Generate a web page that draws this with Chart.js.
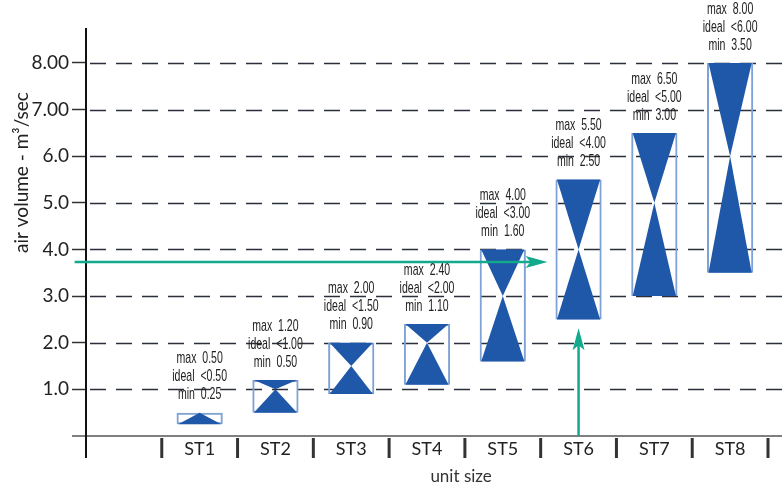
<!DOCTYPE html>
<html>
<head>
<meta charset="utf-8">
<script src="https://cdn.jsdelivr.net/npm/chart.js@4/dist/chart.umd.min.js"></script>
<style>
  html, body { margin: 0; padding: 0; background: #fff; }
  #wrap { width: 782px; height: 486px; }
</style>
</head>
<body>
<div id="wrap"><canvas id="airChart"></canvas></div>
<script>
/* valeurs */
const categories = ["", "ST1", "ST2", "ST3", "ST4", "ST5", "ST6", "ST7", "ST8"];
const maxValues   = [null, 0.50, 1.20, 2.00, 2.40, 4.00, 5.50, 6.50, 8.00];
const idealValues = [null, 0.50, 1.00, 1.50, 2.00, 3.00, 4.00, 5.00, 6.00];
const minValues   = [null, 0.25, 0.50, 0.90, 1.10, 1.60, 2.50, 3.00, 3.50];
const yTicks = [1, 2, 3, 4, 5, 6, 7, 8];
const yTickLabels = ["1.0", "2.0", "3.0", "4.0", "5.0", "6.0", "7.00", "8.00"];

// flèches vertes (en unités d'échelle : index de catégorie / valeur)
const arrowH = { y: 3.73, fromX: -0.65, toX: 5.59 };
const arrowV = { x: 6, fromY: 0, toY: 2.31 };

const labelFont = "'Lato', 'Noto Sans', sans-serif";
const DARK_BLUE = "#1f57a9";
const LIGHT_BLUE = "#7ea2d6";
const TEAL = "#12a98c";

function fmt(v) { return v.toFixed(2); }

// texte condensé (pas de police étroite installée)
function narrowText(ctx, txt, x, y) {
  ctx.save();
  ctx.translate(x, y);
  ctx.scale(0.62, 1);
  ctx.fillText(txt, 0, 0);
  ctx.restore();
}

/* plugin : grille, séparateurs, triangles, textes, flèches */
const decorPlugin = {
  id: "decor",
  beforeDatasetsDraw(chart) {
    const { ctx, chartArea, scales } = chart;
    const y = scales.y, x = scales.x;
    const W = chart.width;
    ctx.save();
    // lignes pointillées horizontales
    ctx.strokeStyle = "#2b2f3a";
    ctx.lineWidth = 1.3;
    ctx.setLineDash([16, 10]);
    yTicks.forEach(v => {
      const py = Math.round(y.getPixelForValue(v)) + 0.5;
      ctx.beginPath();
      ctx.moveTo(chartArea.left + 4, py);
      ctx.lineTo(W, py);
      ctx.stroke();
    });
    ctx.setLineDash([]);
    // axe x
    ctx.strokeStyle = "#555";
    ctx.lineWidth = 1.5;
    ctx.beginPath();
    ctx.moveTo(chartArea.left - 14, chartArea.bottom);
    ctx.lineTo(W, chartArea.bottom);
    ctx.stroke();
    // axe y (descend sous l'axe x)
    ctx.strokeStyle = "#111";
    ctx.lineWidth = 2;
    ctx.beginPath();
    ctx.moveTo(chartArea.left, chartArea.top);
    ctx.lineTo(chartArea.left, chartArea.bottom + 22);
    ctx.stroke();
    // séparateurs de catégories
    const half = (x.getPixelForValue(1) - x.getPixelForValue(0)) / 2;
    ctx.strokeStyle = "#333";
    ctx.lineWidth = 3;
    for (let i = 1; i <= categories.length; i++) {
      const px = x.getPixelForValue(i) - half;
      ctx.beginPath();
      ctx.moveTo(px, chartArea.bottom + 2);
      ctx.lineTo(px, chartArea.bottom + 22);
      ctx.stroke();
    }
    // titre de l'axe y
    ctx.fillStyle = "#222";
    ctx.font = "19px " + labelFont;
    ctx.textAlign = "center";
    ctx.textBaseline = "middle";
    ctx.translate(22, y.getPixelForValue(5.65));
    ctx.rotate(-Math.PI / 2);
    ctx.fillText("air volume - m³/sec", 0, 0);
    ctx.restore();
  },
  afterDatasetsDraw(chart) {
    const { ctx, scales } = chart;
    const y = scales.y, x = scales.x;
    const meta = chart.getDatasetMeta(0);
    ctx.save();
    meta.data.forEach((bar, i) => {
      if (maxValues[i] == null) return;
      const half = bar.width / 2 - 1.5;
      const left = bar.x - half, right = bar.x + half;
      const yMax = y.getPixelForValue(maxValues[i]);
      const yIdeal = y.getPixelForValue(idealValues[i]);
      const yMin = y.getPixelForValue(minValues[i]);
      ctx.fillStyle = DARK_BLUE;
      // triangle haut
      ctx.beginPath();
      ctx.moveTo(left, yMax);
      ctx.lineTo(right, yMax);
      ctx.lineTo(bar.x, yIdeal);
      ctx.closePath();
      ctx.fill();
      // triangle bas
      ctx.beginPath();
      ctx.moveTo(left, yMin);
      ctx.lineTo(right, yMin);
      ctx.lineTo(bar.x, yIdeal);
      ctx.closePath();
      ctx.fill();
      // étiquettes max / ideal / min
      ctx.fillStyle = "#222";
      ctx.font = "17px 'Liberation Sans', sans-serif";
      ctx.textAlign = "center";
      ctx.textBaseline = "middle";
      const top = yMax - 18;
      narrowText(ctx, "min  " + fmt(minValues[i]), bar.x, top);
      narrowText(ctx, "ideal  <" + fmt(idealValues[i]), bar.x, top - 18);
      narrowText(ctx, "max  " + fmt(maxValues[i]), bar.x, top - 36);
    });

    // flèches
    ctx.strokeStyle = TEAL;
    ctx.fillStyle = TEAL;
    ctx.lineWidth = 2.5;
    const hy = y.getPixelForValue(arrowH.y);
    const hx1 = x.getPixelForValue(arrowH.fromX);
    const hx2 = x.getPixelForValue(arrowH.toX);
    ctx.beginPath();
    ctx.moveTo(hx1, hy);
    ctx.lineTo(hx2 - 14, hy);
    ctx.stroke();
    ctx.beginPath();
    ctx.moveTo(hx2, hy);
    ctx.lineTo(hx2 - 22, hy - 6);
    ctx.lineTo(hx2 - 17, hy);
    ctx.lineTo(hx2 - 22, hy + 6);
    ctx.closePath();
    ctx.fill();

    const vx = x.getPixelForValue(arrowV.x);
    const vy1 = y.getPixelForValue(arrowV.fromY);
    const vy2 = y.getPixelForValue(arrowV.toY);
    ctx.beginPath();
    ctx.moveTo(vx, vy1);
    ctx.lineTo(vx, vy2 + 14);
    ctx.stroke();
    ctx.beginPath();
    ctx.moveTo(vx, vy2);
    ctx.lineTo(vx - 6, vy2 + 22);
    ctx.lineTo(vx, vy2 + 17);
    ctx.lineTo(vx + 6, vy2 + 22);
    ctx.closePath();
    ctx.fill();

    // titre de l'axe x
    ctx.fillStyle = "#333";
    ctx.font = "17px " + labelFont;
    ctx.textAlign = "center";
    ctx.textBaseline = "middle";
    ctx.fillText("unit size", x.getPixelForValue(4.45), chart.chartArea.bottom + 41);
    ctx.restore();
  }
};

const canvas = document.getElementById("airChart");
new Chart(canvas, {
  type: "bar",
  data: {
    labels: categories,
    datasets: [{
      data: maxValues.map((v, i) => (v == null ? null : [minValues[i], v])),
      backgroundColor: "rgba(0,0,0,0)",
      borderColor: LIGHT_BLUE,
      borderWidth: 2,
      borderSkipped: false,
      barPercentage: 0.61,
      categoryPercentage: 1
    }]
  },
  options: {
    responsive: true,
    maintainAspectRatio: false,
    animation: false,
    layout: { padding: { top: 28, right: 14, left: 0, bottom: 0 } },
    plugins: {
      legend: { display: false },
      tooltip: { enabled: false }
    },
    scales: {
      x: {
        offset: true,
        grid: { display: false },
        border: { display: false },
        ticks: {
          color: "#222",
          padding: -6,
          font: { family: labelFont, size: 18 }
        },
        afterFit(scale) { scale.height = 50; }
      },
      y: {
        min: 0,
        max: 8.75,
        afterBuildTicks(scale) { scale.ticks = yTicks.map(v => ({ value: v })); },
        grid: {
          drawOnChartArea: false,
          drawTicks: true,
          tickLength: 14,
          tickColor: "#333",
          tickWidth: 1.5
        },
        border: { display: false },
        ticks: {
          color: "#222",
          padding: 3,
          font: { family: labelFont, size: 19 },
          callback: (v) => yTickLabels[yTicks.indexOf(v)] || ""
        },
        afterFit(scale) { scale.width = 86; }
      }
    }
  },
  plugins: [decorPlugin]
});
</script>
</body>
</html>
